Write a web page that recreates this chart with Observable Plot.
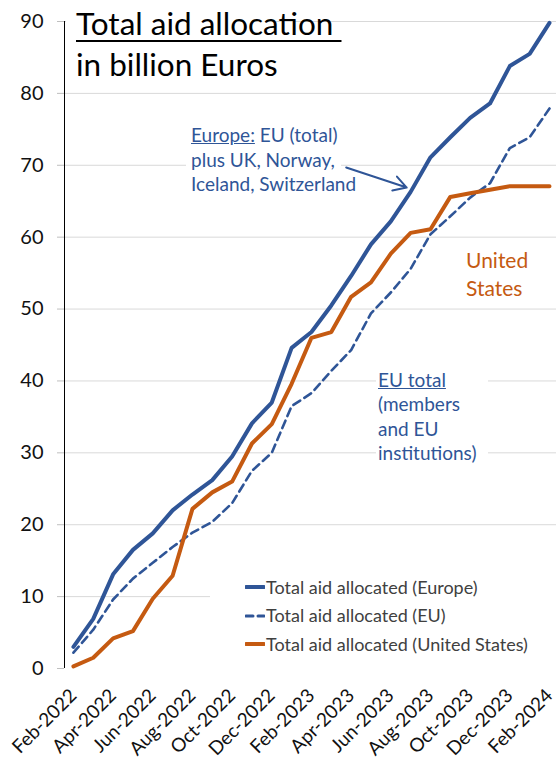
<!DOCTYPE html>
<html>
<head>
<meta charset="utf-8">
<script src="https://cdn.jsdelivr.net/npm/d3@7"></script>
<script src="https://cdn.jsdelivr.net/npm/@observablehq/plot@0.6"></script>
<style>
  html, body { margin: 0; padding: 0; background: #fff; }
  #wrap { position: relative; width: 556px; height: 760px; font-family: Lato, "Noto Sans", sans-serif; }
  #wrap > svg { position: absolute; left: 0; top: 0; }
  .box { position: absolute; background: #fff; white-space: nowrap; }
  #title { left: 66px; top: 3px; width: 210px; height: 86px; font-size: 31.5px; line-height: 41px; color: #000; padding-left: 10px; box-sizing: border-box; overflow: visible; }
  #title u { text-decoration-thickness: 2px; text-underline-offset: 5px; }
  #europeNote { left: 186px; top: 123px; width: 155px; height: 80px; font-size: 19px; line-height: 24.5px; color: #2F5597; padding-left: 5px; box-sizing: border-box; }
  #euNote { left: 376px; top: 368px; width: 112px; height: 102px; font-size: 19px; line-height: 24.4px; color: #2F5597; padding-left: 2px; box-sizing: border-box; }
  #usNote { left: 466px; top: 246px; font-size: 21px; line-height: 28px; color: #C55A11; background: transparent; }
  #legend { left: 210px; top: 573px; width: 346px; height: 88px; font-size: 18px; line-height: 29px; color: #404040; padding-left: 35px; box-sizing: border-box; }
  #legend .row { display: flex; align-items: center; height: 28.5px; }
  #legend svg { position: static; margin-right: 1px; }
</style>
</head>
<body>
<div id="wrap"></div>
<script>
const months = ["Feb-2022","Mar-2022","Apr-2022","May-2022","Jun-2022","Jul-2022","Aug-2022","Sep-2022","Oct-2022","Nov-2022","Dec-2022","Jan-2023","Feb-2023","Mar-2023","Apr-2023","May-2023","Jun-2023","Jul-2023","Aug-2023","Sep-2023","Oct-2023","Nov-2023","Dec-2023","Jan-2024","Feb-2024"];
const europe = [3.0, 6.9, 13.1, 16.5, 18.8, 22.0, 24.2, 26.2, 29.5, 34.1, 37.0, 44.6, 46.8, 50.5, 54.6, 59.0, 62.2, 66.3, 71.1, 73.9, 76.6, 78.6, 83.8, 85.5, 89.8];
const eu = [2.2, 5.4, 9.6, 12.5, 14.7, 16.9, 18.9, 20.4, 23.0, 27.5, 30.0, 36.5, 38.3, 41.4, 44.3, 49.4, 52.3, 55.6, 60.4, 62.9, 65.5, 67.5, 72.4, 73.9, 77.9];
const us = [0.3, 1.5, 4.2, 5.2, 9.7, 12.9, 22.2, 24.5, 26.0, 31.3, 34.0, 39.6, 46.0, 46.8, 51.7, 53.7, 57.7, 60.6, 61.1, 65.6, 66.1, 66.6, 67.1, 67.1, 67.1];
const yTicks = [0, 10, 20, 30, 40, 50, 60, 70, 80, 90];
const xTickIdx = [0, 2, 4, 6, 8, 10, 12, 14, 16, 18, 20, 22, 24];
const seriesNames = ["Total aid allocated (Europe)", "Total aid allocated (EU)", "Total aid allocated (United States)"];
// arrow from the Europe note to the Europe line (month index, value)
const arrowFrom = {i: 13.75, v: 69.7};
const arrowTo = {i: 16.8, v: 66.9};

const BLUE = "#2F5597", ORANGE = "#C55A11";
const xStart = -0.45;

const rows = (vals, name) => vals.map((v, i) => ({i, v, name}));

const chart = Plot.plot({
  width: 556,
  height: 760,
  marginTop: 21,
  marginBottom: 92,
  marginLeft: 64,
  marginRight: 7,
  style: {fontFamily: "Lato, 'Noto Sans', sans-serif", background: "transparent"},
  x: {domain: [xStart, 24]},
  y: {domain: [0, 90]},
  marks: [
    Plot.gridY(yTicks.filter(d => d > 0), {stroke: "#d9d9d9", strokeOpacity: 1, strokeWidth: 1, insetRight: -7}),
    Plot.axisY(yTicks, {tickSize: 7, tickPadding: 14, stroke: "#bfbfbf", fill: "#111", fontSize: 20, label: null}),
    Plot.ruleX([xStart], {y1: 0, y2: 90, stroke: "#000", strokeWidth: 1}),
    Plot.axisX(xTickIdx, {tickFormat: i => months[i], tickRotate: -45, tickSize: 0, tickPadding: 24, fill: "#111", fontSize: 19, label: null}),
    Plot.line(rows(eu, seriesNames[1]), {x: "i", y: "v", stroke: BLUE, strokeWidth: 2.6, strokeDasharray: "8,5"}),
    Plot.line(rows(us, seriesNames[2]), {x: "i", y: "v", stroke: ORANGE, strokeWidth: 4}),
    Plot.line(rows(europe, seriesNames[0]), {x: "i", y: "v", stroke: BLUE, strokeWidth: 4}),
    Plot.arrow([{a: arrowFrom, b: arrowTo}], {x1: d => d.a.i, y1: d => d.a.v, x2: d => d.b.i, y2: d => d.b.v, stroke: BLUE, strokeWidth: 2, headLength: 11})
  ]
});

const wrap = document.getElementById("wrap");
wrap.appendChild(chart);

function addBox(id, html) {
  const d = document.createElement("div");
  d.className = "box";
  d.id = id;
  d.innerHTML = html;
  wrap.appendChild(d);
}
addBox("title", "<u>Total aid allocation&nbsp;</u><br>in billion Euros");
addBox("europeNote", "<u>Europe:</u> EU (total)<br>plus UK, Norway,<br>Iceland, Switzerland");
addBox("euNote", "<u>EU total</u><br>(members<br>and EU<br>institutions)");
addBox("usNote", "United<br>States");

const swatch = (color, dash) => `<svg width="20" height="8"><line x1="1" y1="4" x2="19" y2="4" stroke="${color}" stroke-width="${dash ? 3 : 4}" stroke-linecap="round" ${dash ? 'stroke-dasharray="7,5"' : ''}/></svg>`;
addBox("legend",
  `<div class="row">${swatch(BLUE, false)}<span>${seriesNames[0]}</span></div>` +
  `<div class="row">${swatch(BLUE, true)}<span>${seriesNames[1]}</span></div>` +
  `<div class="row">${swatch(ORANGE, false)}<span>${seriesNames[2]}</span></div>`);
</script>
</body>
</html>
